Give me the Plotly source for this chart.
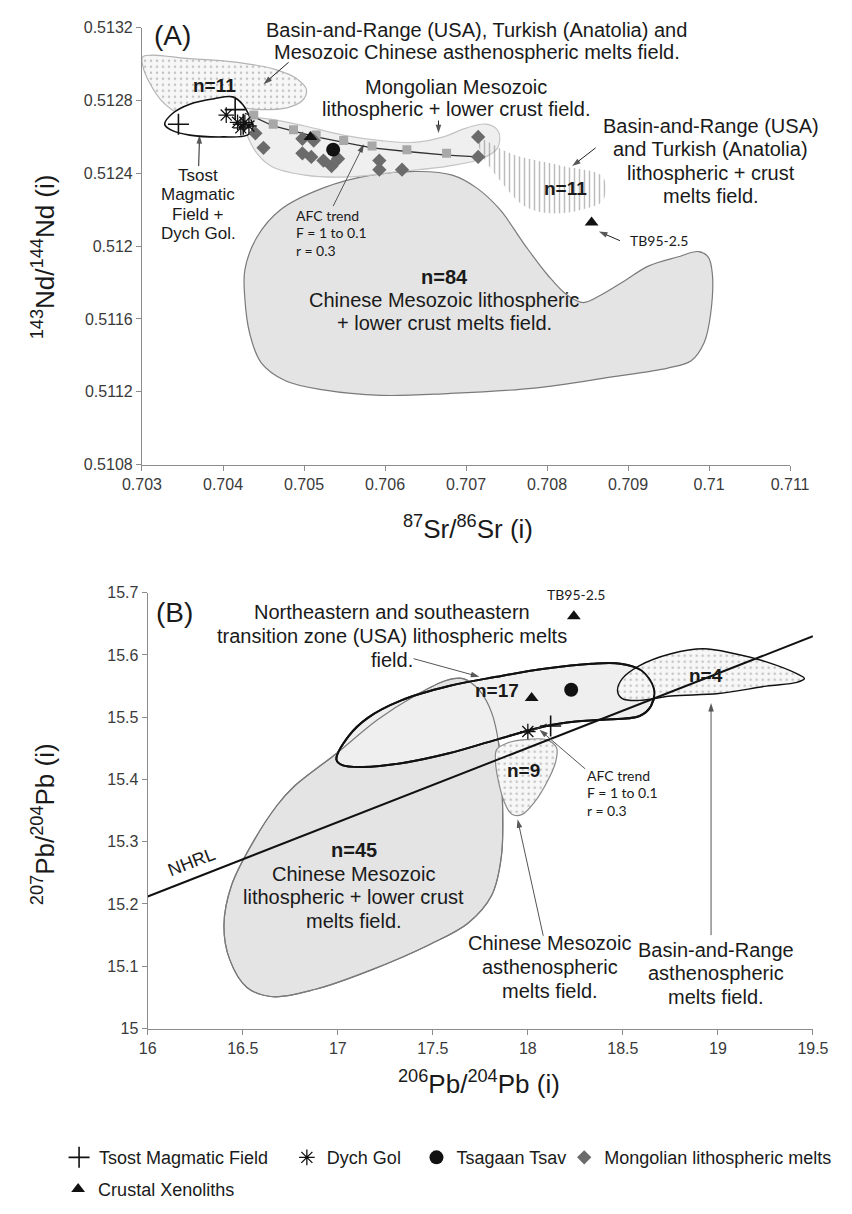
import plotly.graph_objects as go

W, H = 852, 1214

# ---------------- Panel A data (87Sr/86Sr vs 143Nd/144Nd) ----------------
tsost_A_x = [0.70345, 0.70415, 0.70425]
tsost_A_y = [0.51267, 0.51275, 0.51267]
dych_A_x = [0.70404, 0.70418, 0.70422, 0.70427, 0.70432]
dych_A_y = [0.51272, 0.51268, 0.51265, 0.51268, 0.51266]
tsagaan_A_x = [0.70536]
tsagaan_A_y = [0.51253]
mong_A_x = [0.70440, 0.70450, 0.70498, 0.70512, 0.70498, 0.70509, 0.70524, 0.70542,
            0.70534, 0.70593, 0.70593, 0.70621, 0.70715, 0.70715]
mong_A_y = [0.51262, 0.51254, 0.51259, 0.51258, 0.51251, 0.51249, 0.51247, 0.51248,
            0.51244, 0.51247, 0.51242, 0.51242, 0.51260, 0.51249]
xeno_A_x = [0.70508, 0.70855]
xeno_A_y = [0.51260, 0.51213]
afc_sq_A_x = [0.70438, 0.70462, 0.70487, 0.70515, 0.70549, 0.70584, 0.70627, 0.70676]
afc_sq_A_y = [0.51272, 0.51267, 0.51264, 0.51261, 0.51258, 0.51255, 0.51253, 0.51251]
afc_line_A_x = [0.70427, 0.70438, 0.70462, 0.70487, 0.70515, 0.70549, 0.70584, 0.70627, 0.70676, 0.70715]
afc_line_A_y = [0.51273, 0.51271, 0.51266, 0.51263, 0.51260, 0.51257, 0.51254, 0.51252, 0.51250, 0.51249]

asth_A_x = [0.70301, 0.70359, 0.70418, 0.70465, 0.70491, 0.70503, 0.70498, 0.70479, 0.70447,
            0.70418, 0.70394, 0.70373, 0.70350, 0.70326, 0.70309, 0.70301, 0.70301]
asth_A_y = [0.51304, 0.51303, 0.51301, 0.51297, 0.51292, 0.51286, 0.51280, 0.51276, 0.51275,
            0.51276, 0.51275, 0.51271, 0.51272, 0.51279, 0.51290, 0.51299, 0.51304]
tsostf_A_x = [0.70328, 0.70338, 0.70359, 0.70389, 0.70412, 0.70424, 0.70433, 0.70437, 0.70430,
              0.70400, 0.70359, 0.70335, 0.70328]
tsostf_A_y = [0.51267, 0.51273, 0.51278, 0.51281, 0.51282, 0.51278, 0.51271, 0.51265, 0.51261,
              0.51260, 0.51261, 0.51264, 0.51267]
mongf_A_x = [0.70427, 0.70453, 0.70501, 0.70548, 0.70595, 0.70636, 0.70672, 0.70701, 0.70725,
             0.70740, 0.70739, 0.70719, 0.70678, 0.70619, 0.70554, 0.70501, 0.70459, 0.70436,
             0.70427]
mongf_A_y = [0.51270, 0.51270, 0.51266, 0.51261, 0.51258, 0.51257, 0.51260, 0.51265, 0.51267,
             0.51263, 0.51254, 0.51248, 0.51244, 0.51241, 0.51238, 0.51239, 0.51244, 0.51255,
             0.51270]
hatch_A_x = [0.70715, 0.70760, 0.70819, 0.70869, 0.70869, 0.70843, 0.70803, 0.70772, 0.70742,
             0.70719, 0.70715]
hatch_A_y = [0.51259, 0.51250, 0.51244, 0.51238, 0.51225, 0.51220, 0.51218, 0.51222, 0.51236,
             0.51251, 0.51259]
china_A_x = [0.70427, 0.70442, 0.70471, 0.70524, 0.70583, 0.70642, 0.70683, 0.70713, 0.70742,
             0.70772, 0.70801, 0.70825, 0.70845, 0.70866, 0.70896, 0.70925, 0.70961, 0.70987,
             0.70999, 0.71004, 0.71002, 0.70994, 0.70978, 0.70949, 0.70878, 0.70784, 0.70678,
             0.70595, 0.70524, 0.70477, 0.70447, 0.70433, 0.70427, 0.70427]
china_A_y = [0.51187, 0.51205, 0.51220, 0.51232, 0.51239, 0.51241, 0.51239, 0.51232, 0.51220,
             0.51201, 0.51184, 0.51173, 0.51169, 0.51173, 0.51181, 0.51189, 0.51194, 0.51197,
             0.51194, 0.51185, 0.51163, 0.51147, 0.51137, 0.51133, 0.51128, 0.51122, 0.51119,
             0.51118, 0.51121, 0.51126, 0.51136, 0.51152, 0.51171, 0.51187]

# ---------------- Panel B data (206Pb/204Pb vs 207Pb/204Pb) ----------------
tsost_B_x = [18.12]
tsost_B_y = [15.486]
dych_B_x = [18.00]
dych_B_y = [15.477]
tsagaan_B_x = [18.228]
tsagaan_B_y = [15.544]
xeno_B_x = [18.02, 18.242]
xeno_B_y = [15.531, 15.662]
afc_B_x = [17.98, 18.04, 18.10]
afc_B_y = [15.472, 15.481, 15.489]
nhrl_x = [16.0, 19.5]
nhrl_y = [15.212, 15.630]

ne_B_x = [16.993, 17.058, 17.158, 17.334, 17.585, 17.836, 18.086, 18.337, 18.487, 18.598, 18.663,
          18.648, 18.588, 18.387, 18.252, 18.086, 17.836, 17.585, 17.334, 17.133, 17.023, 16.993]
ne_B_y = [15.432, 15.470, 15.499, 15.527, 15.550, 15.565, 15.578, 15.586, 15.586, 15.575, 15.546,
          15.518, 15.502, 15.496, 15.493, 15.485, 15.464, 15.442, 15.426, 15.420, 15.423, 15.432]
china_B_x = [16.767, 16.998, 17.209, 17.409, 17.570, 17.660, 17.745, 17.810, 17.850, 17.866, 17.861,
             17.810, 17.685, 17.484, 17.184, 16.883, 16.657, 16.522, 16.431, 16.401, 16.441, 16.557,
             16.682, 16.767]
china_B_y = [15.388, 15.443, 15.496, 15.535, 15.559, 15.562, 15.543, 15.507, 15.451, 15.372, 15.277,
             15.214, 15.169, 15.135, 15.095, 15.063, 15.051, 15.066, 15.111, 15.166, 15.230, 15.301,
             15.359, 15.388]
chasth_B_x = [17.836, 17.896, 17.986, 18.096, 18.151, 18.146, 18.101, 18.036, 17.971, 17.916, 17.876,
              17.846, 17.830, 17.836]
chasth_B_y = [15.448, 15.459, 15.464, 15.464, 15.451, 15.428, 15.396, 15.364, 15.344, 15.344, 15.364,
              15.396, 15.428, 15.448]
br_B_x = [18.472, 18.497, 18.588, 18.753, 18.924, 19.089, 19.255, 19.415, 19.455, 19.415, 19.255,
          19.004, 18.753, 18.588, 18.497, 18.472]
br_B_y = [15.542, 15.562, 15.583, 15.602, 15.610, 15.602, 15.589, 15.570, 15.562, 15.556, 15.550,
          15.538, 15.534, 15.527, 15.530, 15.542]

xA_ticks = [0.703, 0.704, 0.705, 0.706, 0.707, 0.708, 0.709, 0.710, 0.711]
xA_text = ["0.703", "0.704", "0.705", "0.706", "0.707", "0.708", "0.709", "0.71", "0.711"]
yA_ticks = [0.5108, 0.5112, 0.5116, 0.5120, 0.5124, 0.5128, 0.5132]
yA_text = ["0.5108", "0.5112", "0.5116", "0.512", "0.5124", "0.5128", "0.5132"]
xB_ticks = [16, 16.5, 17, 17.5, 18, 18.5, 19, 19.5]
xB_text = ["16", "16.5", "17", "17.5", "18", "18.5", "19", "19.5"]
yB_ticks = [15, 15.1, 15.2, 15.3, 15.4, 15.5, 15.6, 15.7]
yB_text = ["15", "15.1", "15.2", "15.3", "15.4", "15.5", "15.6", "15.7"]

# ---------------- styles ----------------
FONT = "Liberation Sans, Arial, sans-serif"
CAL = "Lato, Carlito, Calibri, sans-serif"
TXT = "#1a1a1a"
AX = "#8c8c8c"
BIG = 20

fig = go.Figure()


def field(x, y, xa, ya, fill, line, lw=1, pattern=None):
    tr = go.Scatter(x=x, y=y, xaxis=xa, yaxis=ya, mode="lines", fill="toself",
                    fillcolor=fill, line=dict(color=line, width=lw, shape="spline", smoothing=1.0),
                    hoverinfo="skip", showlegend=False)
    if pattern:
        tr.fillpattern = pattern
    fig.add_trace(tr)


def outline(x, y, xa, ya, line, lw=1):
    fig.add_trace(go.Scatter(x=x, y=y, xaxis=xa, yaxis=ya, mode="lines",
                             line=dict(color=line, width=lw, shape="spline", smoothing=1.0),
                             hoverinfo="skip", showlegend=False))


dots = dict(shape=".", bgcolor="#f7f7f7", fgcolor="#8f8f8f", size=6, solidity=0.15)
hatch = dict(shape="|", bgcolor="rgba(255,255,255,0)", fgcolor="#7a7a7a", size=5, solidity=0.3)

# Panel A fields
field(china_A_x, china_A_y, "x", "y", "#e4e4e4", "#7a7a7a", 1.2)
field(mongf_A_x, mongf_A_y, "x", "y", "rgba(237,237,237,0.9)", "#c4c4c4", 1.2)
field(hatch_A_x, hatch_A_y, "x", "y", "rgba(255,255,255,0)", "rgba(0,0,0,0)", 0, pattern=hatch)
field(asth_A_x, asth_A_y, "x", "y", "#f7f7f7", "#b4b4b4", 1.2, pattern=dots)
field(tsostf_A_x, tsostf_A_y, "x", "y", "#ffffff", "#111111", 1.6)

# Panel B fields
field(china_B_x, china_B_y, "x2", "y2", "#e4e4e4", "#7a7a7a", 1.2)
field(ne_B_x, ne_B_y, "x2", "y2", "#efefef", "#111111", 2)
outline(china_B_x, china_B_y, "x2", "y2", "#7a7a7a", 1.2)
field(chasth_B_x, chasth_B_y, "x2", "y2", "#f7f7f7", "#8a8a8a", 1.2, pattern=dots)
field(br_B_x, br_B_y, "x2", "y2", "#f7f7f7", "#111111", 1.4, pattern=dots)
outline(ne_B_x, ne_B_y, "x2", "y2", "#111111", 2)
fig.add_trace(go.Scatter(x=nhrl_x, y=nhrl_y, xaxis="x2", yaxis="y2", mode="lines",
                         line=dict(color="#111111", width=2), hoverinfo="skip", showlegend=False))

# AFC trends
fig.add_trace(go.Scatter(x=afc_line_A_x, y=afc_line_A_y, xaxis="x", yaxis="y", mode="lines",
                         line=dict(color="#333333", width=1.3), showlegend=False, hoverinfo="skip"))
fig.add_trace(go.Scatter(x=afc_sq_A_x, y=afc_sq_A_y, xaxis="x", yaxis="y", mode="markers",
                         marker=dict(symbol="square", size=9, color="#a8a8a8"),
                         showlegend=False, hoverinfo="skip"))
fig.add_trace(go.Scatter(x=afc_B_x, y=afc_B_y, xaxis="x2", yaxis="y2", mode="lines",
                         line=dict(color="#333333", width=1.2), showlegend=False, hoverinfo="skip"))


# pointer arrows (line + arrow-head marker oriented along the line)
def arrow(xh, yh, xt, yt, xa="x", ya="y", color="#444444"):
    fig.add_trace(go.Scatter(x=[xt, xh], y=[yt, yh], xaxis=xa, yaxis=ya, mode="lines+markers",
                             line=dict(color=color, width=1),
                             marker=dict(symbol="arrow", size=[0, 9], angleref="previous",
                                         color="#111111", line=dict(width=0)),
                             hoverinfo="skip", showlegend=False))


arrow(0.70450, 0.51289, 0.70481, 0.51301, color="#222222")
arrow(0.70666, 0.51262, 0.70666, 0.51269, color="#222222")
arrow(0.70831, 0.51244, 0.70860, 0.51254, color="#222222")
arrow(0.70864, 0.51208, 0.70890, 0.51203, color="#222222")
arrow(0.70371, 0.51261, 0.70370, 0.51244, color="#222222")
arrow(0.70574, 0.51256, 0.70536, 0.51222, color="#555555")
arrow(17.745, 15.565, 17.399, 15.594, "x2", "y2", color="#555555")
arrow(18.061, 15.480, 18.302, 15.417, "x2", "y2", color="#555555")
arrow(17.946, 15.336, 18.081, 15.149, "x2", "y2", color="#555555")
arrow(18.964, 15.523, 18.964, 15.150, "x2", "y2", color="#555555")

# sample symbols
styles = {
    "Tsost Magmatic Field": dict(symbol="cross-thin-open", size=15, color="#111111",
                                 line=dict(width=1.6, color="#111111")),
    "Dych Gol": dict(symbol="asterisk-open", size=13, color="#111111",
                     line=dict(width=1.3, color="#111111")),
    "Tsagaan Tsav": dict(symbol="circle", size=14, color="#111111"),
    "Mongolian lithospheric melts": dict(symbol="diamond", size=11, color="#6b6b6b"),
    "Crustal Xenoliths": dict(symbol="triangle-up", size=12, color="#111111"),
}
legend_of = {"Tsost Magmatic Field": "legend", "Dych Gol": "legend2", "Tsagaan Tsav": "legend3",
             "Mongolian lithospheric melts": "legend4", "Crustal Xenoliths": "legend5"}
series = [
    ("Mongolian lithospheric melts", mong_A_x, mong_A_y, [], []),
    ("Tsagaan Tsav", tsagaan_A_x, tsagaan_A_y, tsagaan_B_x, tsagaan_B_y),
    ("Crustal Xenoliths", xeno_A_x, xeno_A_y, xeno_B_x, xeno_B_y),
    ("Tsost Magmatic Field", tsost_A_x, tsost_A_y, tsost_B_x, tsost_B_y),
    ("Dych Gol", dych_A_x, dych_A_y, dych_B_x, dych_B_y),
]
for name, ax_, ay_, bx_, by_ in series:
    fig.add_trace(go.Scatter(x=ax_, y=ay_, xaxis="x", yaxis="y", mode="markers", name=name,
                             marker=styles[name], legend=legend_of[name], showlegend=True))
    if bx_:
        fig.add_trace(go.Scatter(x=bx_, y=by_, xaxis="x2", yaxis="y2", mode="markers", name=name,
                                 marker=styles[name], showlegend=False))


def P(xp, yp):
    return xp / W, 1 - yp / H


ann = []


def text(xp, yp, s, size=BIG, bold=False, font=FONT, xanchor="center", angle=0, color=TXT):
    x, y = P(xp, yp)
    ann.append(dict(x=x, y=y, xref="paper", yref="paper", text=("<b>%s</b>" % s) if bold else s,
                    showarrow=False, xanchor=xanchor, yanchor="middle", textangle=angle,
                    font=dict(family=font, size=size, color=color)))


def lines(xp, y0, step, rows, size=BIG, font=FONT, xanchor="center", bold_first=False):
    for i, r in enumerate(rows):
        text(xp, y0 + i * step, r, size, bold=(bold_first and i == 0), font=font, xanchor=xanchor)


# Panel A text
text(160, 28, "(A)", 28)
lines(479, 22, 23, ["Basin-and-Range (USA), Turkish (Anatolia) and",
                    "Mesozoic Chinese asthenospheric melts field."])
text(204, 79, "n=11", 19, bold=True)
lines(457, 80, 22, ["Mongolian Mesozoic", "lithospheric + lower crust field."])
lines(725, 120, 23.5, ["Basin-and-Range (USA)", "and Turkish (Anatolia)",
                       "lithospheric + crust", "melts field."])
text(572, 183, "n=11", 19, bold=True)
text(670, 236, "TB95-2.5", 14, font=CAL)
lines(187, 170, 19.5, ["Tsost", "Magmatic", "Field +", "Dych Gol."], size=17)
lines(288, 210, 18, ["AFC trend", "F = 1 to 0.1", "r = 0.3"], size=14, font=CAL, xanchor="left")
lines(445, 273, 23, ["n=84", "Chinese Mesozoic lithospheric", "+ lower crust melts field."],
      bold_first=True)

# Panel B text
text(162, 613, "(B)", 28)
lines(390, 613, 24, ["Northeastern and southeastern", "transition zone (USA) lithospheric melts",
                     "field."])
text(583, 595, "TB95-2.5", 14, font=CAL)
text(500, 692, "n=17", 19, bold=True)
text(720, 677, "n=4", 19, bold=True)
text(528, 773, "n=9", 19, bold=True)
lines(593, 778, 18, ["AFC trend", "F = 1 to 0.1", "r = 0.3"], size=14, font=CAL, xanchor="left")
text(180, 866, "NHRL", 18, angle=-21)
lines(350, 854, 24, ["n=45", "Chinese Mesozoic", "lithospheric + lower crust", "melts field."],
      bold_first=True)
lines(556, 948, 24.5, ["Chinese Mesozoic", "asthenospheric", "melts field."])
lines(730, 955, 24, ["Basin-and-Range", "asthenospheric", "melts field."])

# axis titles
text(470, 527, "<sup>87</sup>Sr/<sup>86</sup>Sr (i)", 26)
text(482, 1090, "<sup>206</sup>Pb/<sup>204</sup>Pb (i)", 26)
text(25, 252, "<sup>143</sup>Nd/<sup>144</sup>Nd (i)", 26, angle=-90)
text(25, 828, "<sup>207</sup>Pb/<sup>204</sup>Pb (i)", 26, angle=-90)

axis_common = dict(showgrid=False, zeroline=False, showline=True, linecolor=AX, linewidth=1.2,
                   ticks="outside", ticklen=5, tickcolor=AX,
                   tickfont=dict(family=FONT, size=16, color="#3a3a3a"), mirror=False)

legend_common = dict(orientation="h", yanchor="middle", xanchor="left", bgcolor="rgba(0,0,0,0)",
                     font=dict(family=FONT, size=18, color=TXT), itemsizing="trace",
                     tracegroupgap=0)

fig.update_layout(
    width=W, height=H, margin=dict(l=0, r=0, t=0, b=0),
    paper_bgcolor="white", plot_bgcolor="white",
    xaxis=dict(domain=[128 / W, 808 / W], range=[0.703, 0.711], tickvals=xA_ticks, ticktext=xA_text,
               anchor="y", **axis_common),
    yaxis=dict(domain=[1 - 463 / H, 1 - 20 / H], range=[0.5108, 0.5132], tickvals=yA_ticks,
               ticktext=yA_text, anchor="x", **axis_common),
    xaxis2=dict(domain=[134 / W, 832 / W], range=[16, 19.5], tickvals=xB_ticks, ticktext=xB_text,
                anchor="y2", **axis_common),
    yaxis2=dict(domain=[1 - 1035 / H, 1 - 593 / H], range=[15, 15.7], tickvals=yB_ticks,
                ticktext=yB_text, anchor="x2", **axis_common),
    annotations=ann,
    legend=dict(x=41 / W, y=1 - 1166 / H, **legend_common),
    legend2=dict(x=280 / W, y=1 - 1166 / H, **legend_common),
    legend3=dict(x=416 / W, y=1 - 1166 / H, **legend_common),
    legend4=dict(x=571 / W, y=1 - 1166 / H, **legend_common),
    legend5=dict(x=40 / W, y=1 - 1198 / H, **legend_common),
)

fig.write_html("out.html")
